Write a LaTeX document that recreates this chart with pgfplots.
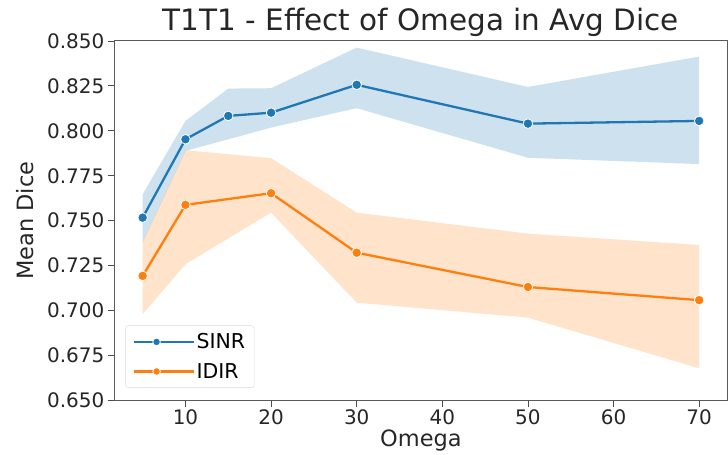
\documentclass[border=0pt]{standalone}
\usepackage{pgfplots}
\pgfplotsset{compat=1.18}
\usepackage{fontspec}
\setmainfont{DejaVu Sans}
\definecolor{cblue}{HTML}{1F77B4}
\definecolor{corange}{HTML}{FF7F0E}
\begin{document}
\begin{tikzpicture}
\begin{axis}[
  at={(0pt,0pt)}, anchor=south west,
  scale only axis, width=613pt, height=360pt,
  xmin=1.75, xmax=73.25, ymin=0.65, ymax=0.85,
  xtick={10,20,30,40,50,60,70},
  ytick={0.65,0.675,0.7,0.725,0.75,0.775,0.8,0.825,0.85},
  yticklabel style={/pgf/number format/.cd, fixed, fixed zerofill, precision=3},
  /pgf/number format/assume math mode=true,
  tick label style={font=\fontsize{20}{23}\selectfont, black!85},
  xticklabel style={yshift=-1pt, inner ysep=1pt},
  xtick pos=bottom, ytick pos=left,
  tick align=outside, major tick length=7pt,
  every tick/.style={black!70, line width=0.8pt},
  axis line style={black!65, line width=1pt},
  title={T1T1 - Effect of Omega in Avg Dice},
  title style={font=\fontsize{29.5}{34}\selectfont, black!85, yshift=-5pt},
  xlabel={Omega}, ylabel={Mean Dice},
  label style={font=\fontsize{22.5}{26}\selectfont, black!85},
  xlabel style={yshift=-3pt, inner ysep=1pt},
  ylabel style={yshift=6pt},
  legend style={font=\fontsize{20.5}{24}\selectfont, draw=black!15, rounded corners=3pt,
    inner xsep=7pt, inner ysep=6pt, row sep=9pt, at={(0.017,0.035)}, anchor=south west},
  legend cell align=left,
  legend image code/.code={
    \path (0pt,0pt) -- (60pt,0pt);
    \draw[#1, line width=1.8pt] (0pt,0pt) -- (46pt,0pt);
    \draw[#1, line width=1.8pt, mark size=3.8pt, mark repeat=1] plot coordinates {(23pt,0pt)};
  },
]
% SINR band
\addplot[fill=cblue, fill opacity=0.22, draw=none, forget plot] coordinates {
  (5,0.7647) (10,0.8055) (15,0.8235) (20,0.8237) (30,0.8463) (50,0.8244) (70,0.8413)
  (70,0.7815) (50,0.7850) (30,0.8126) (20,0.8018) (15,0.7953) (10,0.7888) (5,0.7378)
} -- cycle;
% IDIR band
\addplot[fill=corange, fill opacity=0.22, draw=none, forget plot] coordinates {
  (5,0.7380) (10,0.7892) (20,0.7848) (30,0.7545) (50,0.7428) (70,0.7365)
  (70,0.6679) (50,0.6961) (30,0.7044) (20,0.7545) (10,0.7258) (5,0.6980)
} -- cycle;
\addplot[cblue, line width=2.3pt, mark=*, mark size=4.8pt,
  mark options={fill=cblue, draw=white, line width=0.8pt}] coordinates {
  (5,0.7517) (10,0.7953) (15,0.8083) (20,0.8101) (30,0.8256) (50,0.8040) (70,0.8055)
};
\addlegendentry{SINR}
\addplot[corange, line width=2.3pt, mark=*, mark size=4.8pt,
  mark options={fill=corange, draw=white, line width=0.8pt}] coordinates {
  (5,0.7193) (10,0.7588) (20,0.7653) (30,0.7322) (50,0.7131) (70,0.7058)
};
\addlegendentry{IDIR}
\end{axis}
\pgfresetboundingbox
\useasboundingbox (-115pt,-54pt) rectangle (614pt,401pt);
\end{tikzpicture}
\end{document}
